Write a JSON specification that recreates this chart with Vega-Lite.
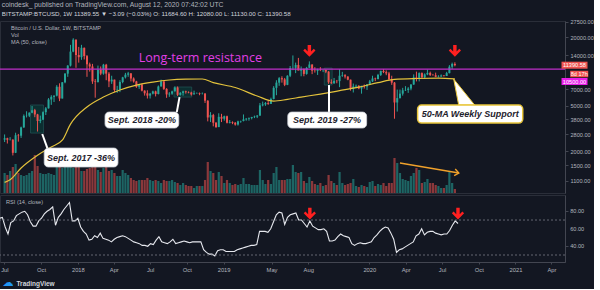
{
"$schema":"https://vega.github.io/schema/vega-lite/v6.json",
"background":"#131722",
"padding":{"left":-2,"top":2,"right":0,"bottom":0},
"config":{"font":"Liberation Sans","view":{"stroke":"#2a2e39"},"axis":{"grid":false,"labelColor":"#b2b5be","labelFontSize":5.6,"domainColor":"#434651","tickColor":"#434651","tickSize":3,"labelPadding":2,"labelFlush":false,"labelOverlap":false}},
"title":{"text":"coindesk_ published on TradingView.com, August 12, 2020 07:42:02 UTC","subtitle":"BITSTAMP:BTCUSD, 1W  11389.55 ▼ −3.09 (−0.03%)  O: 11684.60  H: 12080.00  L: 11130.00  C: 11390.58","anchor":"start","fontSize":6.8,"fontWeight":"normal","color":"#b2b5be","subtitleFontSize":6.2,"subtitleColor":"#d1d4dc","subtitlePadding":2,"offset":2,"dx":3},
"spacing":0,
"datasets":{
"candles":[
{"d":"2017-06-19","o":2520,"h":2800,"l":2400,"c":2590,"v":20,"r":72},
{"d":"2017-06-26","o":2590,"h":2620,"l":2330,"c":2510,"v":18,"r":73},
{"d":"2017-07-03","o":2510,"h":2650,"l":2480,"c":2520,"v":22,"r":62},
{"d":"2017-07-10","o":2520,"h":2540,"l":1830,"c":1930,"v":26,"r":54},
{"d":"2017-07-17","o":1930,"h":2900,"l":1920,"c":2750,"v":29,"r":67},
{"d":"2017-07-24","o":2750,"h":2830,"l":2420,"c":2730,"v":20,"r":69},
{"d":"2017-07-31","o":2730,"h":3280,"l":2610,"c":3230,"v":18,"r":75},
{"d":"2017-08-07","o":3230,"h":4200,"l":3200,"c":4080,"v":17,"r":77},
{"d":"2017-08-14","o":4080,"h":4480,"l":3950,"c":4100,"v":18,"r":79},
{"d":"2017-08-21","o":4100,"h":4380,"l":3980,"c":4350,"v":20,"r":80},
{"d":"2017-08-28","o":4350,"h":4980,"l":4300,"c":4580,"v":22,"r":76},
{"d":"2017-09-04","o":4580,"h":4700,"l":3970,"c":4200,"v":38,"r":68},
{"d":"2017-09-11","o":4200,"h":4250,"l":2970,"c":3680,"v":27,"r":63},
{"d":"2017-09-18","o":3680,"h":4100,"l":3520,"c":3780,"v":20,"r":63},
{"d":"2017-09-25","o":3780,"h":4470,"l":3750,"c":4400,"v":19,"r":69},
{"d":"2017-10-02","o":4400,"h":4880,"l":4150,"c":4750,"v":19,"r":72},
{"d":"2017-10-09","o":4750,"h":5850,"l":4730,"c":5690,"v":20,"r":77},
{"d":"2017-10-16","o":5690,"h":6200,"l":5100,"c":6000,"v":19,"r":80},
{"d":"2017-10-23","o":6000,"h":6190,"l":5400,"c":6140,"v":18,"r":82},
{"d":"2017-10-30","o":6140,"h":7600,"l":6050,"c":7360,"v":27,"r":85},
{"d":"2017-11-06","o":7360,"h":7890,"l":5500,"c":5800,"v":26,"r":64},
{"d":"2017-11-13","o":5800,"h":8100,"l":5800,"c":8050,"v":25,"r":73},
{"d":"2017-11-20","o":8050,"h":9700,"l":7900,"c":9600,"v":28,"r":77},
{"d":"2017-11-27","o":9600,"h":11400,"l":9000,"c":11300,"v":26,"r":82},
{"d":"2017-12-04","o":11300,"h":17200,"l":11100,"c":15000,"v":27,"r":86},
{"d":"2017-12-11","o":15000,"h":19670,"l":14800,"c":19100,"v":25,"r":90},
{"d":"2017-12-18","o":19100,"h":19200,"l":10800,"c":14000,"v":28,"r":69},
{"d":"2017-12-25","o":14000,"h":16500,"l":12000,"c":13400,"v":27,"r":69},
{"d":"2018-01-01","o":13400,"h":17200,"l":12700,"c":16200,"v":22,"r":72},
{"d":"2018-01-08","o":16200,"h":16300,"l":12800,"c":13700,"v":22,"r":62},
{"d":"2018-01-15","o":13700,"h":14000,"l":9000,"c":11600,"v":24,"r":57},
{"d":"2018-01-22","o":11600,"h":12000,"l":10000,"c":11100,"v":25,"r":54},
{"d":"2018-01-29","o":11100,"h":11700,"l":7800,"c":8200,"v":28,"r":47},
{"d":"2018-02-05","o":8200,"h":8600,"l":5900,"c":8100,"v":28,"r":48},
{"d":"2018-02-12","o":8100,"h":11300,"l":8000,"c":10400,"v":23,"r":52},
{"d":"2018-02-19","o":10400,"h":11100,"l":9300,"c":9600,"v":21,"r":50},
{"d":"2018-02-26","o":9600,"h":11700,"l":9400,"c":11500,"v":25,"r":55},
{"d":"2018-03-05","o":11500,"h":11700,"l":8400,"c":9600,"v":27,"r":49},
{"d":"2018-03-12","o":9600,"h":9900,"l":7300,"c":8200,"v":22,"r":48},
{"d":"2018-03-19","o":8200,"h":9200,"l":7800,"c":8500,"v":23,"r":47},
{"d":"2018-03-26","o":8500,"h":8500,"l":6600,"c":6900,"v":20,"r":45},
{"d":"2018-04-02","o":6900,"h":7500,"l":6500,"c":6950,"v":17,"r":48},
{"d":"2018-04-09","o":6950,"h":8400,"l":6600,"c":8100,"v":17,"r":50},
{"d":"2018-04-16","o":8100,"h":9000,"l":7900,"c":8900,"v":23,"r":51},
{"d":"2018-04-23","o":8900,"h":9750,"l":8700,"c":9400,"v":20,"r":52},
{"d":"2018-04-30","o":9400,"h":9950,"l":9000,"c":9650,"v":18,"r":51},
{"d":"2018-05-07","o":9650,"h":9700,"l":8200,"c":8700,"v":15,"r":49},
{"d":"2018-05-14","o":8700,"h":8900,"l":8000,"c":8200,"v":13,"r":47},
{"d":"2018-05-21","o":8200,"h":8300,"l":7200,"c":7350,"v":12,"r":45},
{"d":"2018-05-28","o":7350,"h":7750,"l":7050,"c":7700,"v":13,"r":44},
{"d":"2018-06-04","o":7700,"h":7800,"l":6700,"c":6800,"v":13,"r":43},
{"d":"2018-06-11","o":6800,"h":6850,"l":6150,"c":6450,"v":13,"r":41},
{"d":"2018-06-18","o":6450,"h":6850,"l":5800,"c":6150,"v":15,"r":41},
{"d":"2018-06-25","o":6150,"h":6500,"l":5800,"c":6400,"v":13,"r":40},
{"d":"2018-07-02","o":6400,"h":6800,"l":6300,"c":6700,"v":12,"r":43},
{"d":"2018-07-09","o":6700,"h":6800,"l":6050,"c":6350,"v":13,"r":42},
{"d":"2018-07-16","o":6350,"h":7550,"l":6300,"c":7400,"v":12,"r":47},
{"d":"2018-07-23","o":7400,"h":8500,"l":7400,"c":8200,"v":10,"r":51},
{"d":"2018-07-30","o":8200,"h":8250,"l":6900,"c":7050,"v":13,"r":45},
{"d":"2018-08-06","o":7050,"h":7150,"l":5880,"c":6300,"v":12,"r":44},
{"d":"2018-08-13","o":6300,"h":6600,"l":6000,"c":6400,"v":12,"r":43},
{"d":"2018-08-20","o":6400,"h":6800,"l":6250,"c":6700,"v":13,"r":45},
{"d":"2018-08-27","o":6700,"h":7400,"l":6700,"c":7250,"v":11,"r":48},
{"d":"2018-09-03","o":7250,"h":7400,"l":6100,"c":6250,"v":10,"r":43},
{"d":"2018-09-10","o":6250,"h":6600,"l":6150,"c":6500,"v":8,"r":44},
{"d":"2018-09-17","o":6500,"h":6800,"l":6150,"c":6700,"v":10,"r":45},
{"d":"2018-09-24","o":6700,"h":6800,"l":6400,"c":6600,"v":8,"r":46},
{"d":"2018-10-01","o":6600,"h":6700,"l":6450,"c":6550,"v":7,"r":45},
{"d":"2018-10-08","o":6550,"h":6650,"l":6150,"c":6300,"v":7,"r":44},
{"d":"2018-10-15","o":6300,"h":6800,"l":6300,"c":6450,"v":5,"r":45},
{"d":"2018-10-22","o":6450,"h":6550,"l":6400,"c":6480,"v":7,"r":45},
{"d":"2018-10-29","o":6480,"h":6550,"l":6200,"c":6400,"v":7,"r":45},
{"d":"2018-11-05","o":6400,"h":6550,"l":6300,"c":6420,"v":7,"r":45},
{"d":"2018-11-12","o":6420,"h":6450,"l":5300,"c":5550,"v":13,"r":36},
{"d":"2018-11-19","o":5550,"h":5600,"l":3650,"c":3950,"v":31,"r":33},
{"d":"2018-11-26","o":3950,"h":4400,"l":3600,"c":4150,"v":22,"r":31},
{"d":"2018-12-03","o":4150,"h":4250,"l":3300,"c":3550,"v":20,"r":31},
{"d":"2018-12-10","o":3550,"h":3600,"l":3200,"c":3250,"v":13,"r":29},
{"d":"2018-12-17","o":3250,"h":4300,"l":3250,"c":4000,"v":21,"r":35},
{"d":"2018-12-24","o":4000,"h":4250,"l":3600,"c":3850,"v":17,"r":36},
{"d":"2018-12-31","o":3850,"h":4100,"l":3700,"c":4050,"v":10,"r":36},
{"d":"2019-01-07","o":4050,"h":4100,"l":3500,"c":3550,"v":13,"r":34},
{"d":"2019-01-14","o":3550,"h":3750,"l":3500,"c":3600,"v":10,"r":34},
{"d":"2019-01-21","o":3600,"h":3650,"l":3450,"c":3550,"v":8,"r":34},
{"d":"2019-01-28","o":3550,"h":3600,"l":3350,"c":3420,"v":9,"r":34},
{"d":"2019-02-04","o":3420,"h":3700,"l":3350,"c":3650,"v":8,"r":36},
{"d":"2019-02-11","o":3650,"h":3700,"l":3550,"c":3680,"v":9,"r":37},
{"d":"2019-02-18","o":3680,"h":4200,"l":3650,"c":3800,"v":15,"r":38},
{"d":"2019-02-25","o":3800,"h":3900,"l":3700,"c":3850,"v":9,"r":39},
{"d":"2019-03-04","o":3850,"h":3950,"l":3700,"c":3900,"v":9,"r":40},
{"d":"2019-03-11","o":3900,"h":4000,"l":3800,"c":3980,"v":8,"r":41},
{"d":"2019-03-18","o":3980,"h":4100,"l":3900,"c":4020,"v":8,"r":41},
{"d":"2019-03-25","o":4020,"h":4150,"l":3900,"c":4100,"v":8,"r":42},
{"d":"2019-04-01","o":4100,"h":5300,"l":4100,"c":5050,"v":23,"r":57},
{"d":"2019-04-08","o":5050,"h":5450,"l":4950,"c":5150,"v":13,"r":57},
{"d":"2019-04-15","o":5150,"h":5400,"l":5000,"c":5300,"v":9,"r":57},
{"d":"2019-04-22","o":5300,"h":5650,"l":5100,"c":5200,"v":13,"r":56},
{"d":"2019-04-29","o":5200,"h":5900,"l":5200,"c":5750,"v":9,"r":60},
{"d":"2019-05-06","o":5750,"h":7450,"l":5700,"c":7200,"v":20,"r":68},
{"d":"2019-05-13","o":7200,"h":8400,"l":6200,"c":8000,"v":26,"r":76},
{"d":"2019-05-20","o":8000,"h":8950,"l":7500,"c":8750,"v":13,"r":79},
{"d":"2019-05-27","o":8750,"h":9100,"l":8000,"c":8550,"v":13,"r":78},
{"d":"2019-06-03","o":8550,"h":8800,"l":7450,"c":7650,"v":13,"r":65},
{"d":"2019-06-10","o":7650,"h":9300,"l":7600,"c":9200,"v":14,"r":73},
{"d":"2019-06-17","o":9200,"h":11200,"l":8950,"c":10750,"v":14,"r":76},
{"d":"2019-06-24","o":10750,"h":13880,"l":10300,"c":10800,"v":28,"r":77},
{"d":"2019-07-01","o":10800,"h":12000,"l":9700,"c":11450,"v":21,"r":78},
{"d":"2019-07-08","o":11450,"h":13200,"l":10400,"c":10200,"v":20,"r":70},
{"d":"2019-07-15","o":10200,"h":11100,"l":9100,"c":10550,"v":21,"r":70},
{"d":"2019-07-22","o":10550,"h":10650,"l":9100,"c":9550,"v":12,"r":66},
{"d":"2019-07-29","o":9550,"h":11000,"l":9400,"c":10800,"v":10,"r":62},
{"d":"2019-08-05","o":10800,"h":12300,"l":10800,"c":11550,"v":16,"r":69},
{"d":"2019-08-12","o":11550,"h":11600,"l":9500,"c":10200,"v":12,"r":63},
{"d":"2019-08-19","o":10200,"h":10950,"l":9800,"c":10150,"v":9,"r":61},
{"d":"2019-08-26","o":10150,"h":10600,"l":9350,"c":10400,"v":8,"r":59},
{"d":"2019-09-02","o":10400,"h":10950,"l":10100,"c":10300,"v":10,"r":59},
{"d":"2019-09-09","o":10300,"h":10400,"l":9900,"c":10350,"v":7,"r":60},
{"d":"2019-09-16","o":10350,"h":10400,"l":9700,"c":10000,"v":8,"r":57},
{"d":"2019-09-23","o":10000,"h":10100,"l":7800,"c":8050,"v":18,"r":46},
{"d":"2019-09-30","o":8050,"h":8550,"l":7800,"c":7900,"v":12,"r":46},
{"d":"2019-10-07","o":7900,"h":8800,"l":7800,"c":8300,"v":10,"r":47},
{"d":"2019-10-14","o":8300,"h":8450,"l":7900,"c":8250,"v":8,"r":51},
{"d":"2019-10-21","o":8250,"h":10500,"l":7300,"c":9200,"v":21,"r":54},
{"d":"2019-10-28","o":9200,"h":9950,"l":9000,"c":9300,"v":10,"r":52},
{"d":"2019-11-04","o":9300,"h":9500,"l":8700,"c":9050,"v":8,"r":51},
{"d":"2019-11-11","o":9050,"h":9100,"l":8400,"c":8500,"v":9,"r":50},
{"d":"2019-11-18","o":8500,"h":8500,"l":6800,"c":7050,"v":10,"r":43},
{"d":"2019-11-25","o":7050,"h":7850,"l":6550,"c":7400,"v":14,"r":41},
{"d":"2019-12-02","o":7400,"h":7700,"l":7150,"c":7500,"v":7,"r":43},
{"d":"2019-12-09","o":7500,"h":7600,"l":7000,"c":7100,"v":6,"r":44},
{"d":"2019-12-16","o":7100,"h":7500,"l":6400,"c":7500,"v":8,"r":43},
{"d":"2019-12-23","o":7500,"h":7700,"l":7100,"c":7400,"v":7,"r":43},
{"d":"2019-12-30","o":7400,"h":7600,"l":6900,"c":7750,"v":6,"r":44},
{"d":"2020-01-06","o":7750,"h":8450,"l":7700,"c":8200,"v":11,"r":45},
{"d":"2020-01-13","o":8200,"h":9200,"l":8100,"c":8700,"v":12,"r":50},
{"d":"2020-01-20","o":8700,"h":8850,"l":8250,"c":8600,"v":7,"r":53},
{"d":"2020-01-27","o":8600,"h":9550,"l":8550,"c":9350,"v":9,"r":57},
{"d":"2020-02-03","o":9350,"h":10200,"l":9150,"c":10150,"v":8,"r":60},
{"d":"2020-02-10","o":10150,"h":10500,"l":9700,"c":9900,"v":10,"r":62},
{"d":"2020-02-17","o":9900,"h":10250,"l":9300,"c":9650,"v":7,"r":61},
{"d":"2020-02-24","o":9650,"h":9950,"l":8450,"c":8550,"v":10,"r":55},
{"d":"2020-03-02","o":8550,"h":9200,"l":7650,"c":8000,"v":10,"r":48},
{"d":"2020-03-09","o":8000,"h":8100,"l":3850,"c":5350,"v":35,"r":33},
{"d":"2020-03-16","o":5350,"h":6950,"l":4450,"c":5850,"v":30,"r":36},
{"d":"2020-03-23","o":5850,"h":6950,"l":5800,"c":6400,"v":20,"r":37},
{"d":"2020-03-30","o":6400,"h":7200,"l":6150,"c":6850,"v":14,"r":39},
{"d":"2020-04-06","o":6850,"h":7450,"l":6750,"c":6900,"v":13,"r":41},
{"d":"2020-04-13","o":6900,"h":7300,"l":6500,"c":7100,"v":12,"r":43},
{"d":"2020-04-20","o":7100,"h":7750,"l":6850,"c":7700,"v":17,"r":45},
{"d":"2020-04-27","o":7700,"h":9450,"l":7650,"c":8900,"v":20,"r":52},
{"d":"2020-05-04","o":8900,"h":10000,"l":8200,"c":8750,"v":25,"r":54},
{"d":"2020-05-11","o":8750,"h":9850,"l":8200,"c":9700,"v":23,"r":60},
{"d":"2020-05-18","o":9700,"h":9850,"l":8800,"c":8900,"v":10,"r":53},
{"d":"2020-05-25","o":8900,"h":9650,"l":8650,"c":9450,"v":11,"r":56},
{"d":"2020-06-01","o":9450,"h":10400,"l":9300,"c":9750,"v":14,"r":57},
{"d":"2020-06-08","o":9750,"h":10000,"l":9150,"c":9350,"v":10,"r":57},
{"d":"2020-06-15","o":9350,"h":9550,"l":9250,"c":9300,"v":10,"r":55},
{"d":"2020-06-22","o":9300,"h":9800,"l":8950,"c":9000,"v":8,"r":54},
{"d":"2020-06-29","o":9000,"h":9300,"l":8900,"c":9050,"v":7,"r":53},
{"d":"2020-07-06","o":9050,"h":9450,"l":9000,"c":9250,"v":5,"r":54},
{"d":"2020-07-13","o":9250,"h":9300,"l":9050,"c":9150,"v":5,"r":54},
{"d":"2020-07-20","o":9150,"h":9950,"l":9150,"c":9700,"v":8,"r":58},
{"d":"2020-07-27","o":9700,"h":11400,"l":9650,"c":11050,"v":21,"r":64},
{"d":"2020-08-03","o":11050,"h":12000,"l":10550,"c":11690,"v":10,"r":69},
{"d":"2020-08-10","o":11685,"h":12080,"l":11130,"c":11390,"v":4,"r":66}
],
"ma":[
{"d":"2017-06-19","ma":1060},{"d":"2017-07-03","ma":1120},{"d":"2017-07-31","ma":1420},{"d":"2017-09-11","ma":1840},{"d":"2017-10-16","ma":2170},{"d":"2017-11-13","ma":2490},{"d":"2017-12-04","ma":3450},{"d":"2018-01-15","ma":4890},{"d":"2018-02-26","ma":5970},{"d":"2018-04-09","ma":6890},{"d":"2018-05-21","ma":7610},{"d":"2018-07-02","ma":8090},{"d":"2018-08-13","ma":8440},{"d":"2018-09-24","ma":8580},{"d":"2018-11-05","ma":8610},{"d":"2018-12-03","ma":8000},{"d":"2019-01-28","ma":7250},{"d":"2019-03-25","ma":6100},{"d":"2019-05-06","ma":5500},{"d":"2019-06-10","ma":5700},{"d":"2019-07-15","ma":5970},{"d":"2019-09-02","ma":6350},{"d":"2019-10-21","ma":6800},{"d":"2019-12-09","ma":7300},{"d":"2020-01-27","ma":8000},{"d":"2020-03-09","ma":8550},{"d":"2020-05-04","ma":8700},{"d":"2020-06-29","ma":8750},{"d":"2020-08-10","ma":8620}
],
"callouts":[
{"t":"Sept. 2017 -36%","b1":"2017-09-28","b2":"2018-04-04","lo":1449,"hi":2125,"td":"2017-12-31","tp":1754,"s1d":"2017-09-23","s1p":2825,"s2d":"2017-10-06","s2p":2125,"h1":"2017-08-24","h2":"2017-09-26","hlo":2879,"hhi":5085},
{"t":"Sept. 2018 -20%","b1":"2018-03-02","b2":"2018-09-06","lo":3189,"hi":4407,"td":"2018-06-04","tp":3748,"s1d":"2018-09-08","s1p":5970,"s2d":"2018-09-01","s2p":4407,"h1":"2018-08-25","h2":"2018-10-09","hlo":5970,"hhi":7320},
{"t":"Sept. 2019 -27%","b1":"2019-06-11","b2":"2019-12-29","lo":3189,"hi":4407,"td":"2019-09-19","tp":3748,"s1d":"2019-09-24","s1p":7617,"s2d":"2019-09-24","s2p":4407,"h1":"2019-09-12","h2":"2019-10-02","hlo":7617,"hhi":10750}
],
"arrows":[{"d":"2019-08-05"},{"d":"2020-08-10"}],
"volTrend":[{"d":"2020-03-23","v":30},{"d":"2020-08-20","v":20}],
"rsiTicks":[{"t":40},{"t":60},{"t":80}]
},
"vconcat":[
{
"width":565,"height":172,
"resolve":{"scale":{"y":"independent"}},
"layer":[
{"layer":[
{"data":{"name":"candles"},"mark":{"type":"bar","width":2.2,"opacity":0.55,"clip":true},
"encoding":{"x":{"field":"d","type":"temporal","scale":{"type":"utc","domain":[{"year":2017,"month":6,"date":20,"utc":true},{"year":2021,"month":5,"date":5,"utc":true}]},"axis":null},
"y":{"field":"v","type":"quantitative","scale":{"domain":[0,172],"nice":false},"axis":null},
"color":{"condition":{"test":"datum.c >= datum.o","value":"#26a69a"},"value":"#ef5350"}}},
{"data":{"name":"volTrend"},"mark":{"type":"line","color":"#f0a12b","strokeWidth":1.3},
"encoding":{"x":{"field":"d","type":"temporal","scale":{"type":"utc","domain":[{"year":2017,"month":6,"date":20,"utc":true},{"year":2021,"month":5,"date":5,"utc":true}]},"axis":null},
"y":{"field":"v","type":"quantitative","scale":{"domain":[0,172],"nice":false},"axis":null}}},
{"data":{"name":"volTrend"},"transform":[{"filter":"datum.v < 25"}],"mark":{"type":"point","shape":"M-1,-0.8L0,0L-1,0.8","filled":false,"stroke":"#f0a12b","strokeWidth":1.4,"size":70,"angle":9.5,"opacity":1},
"encoding":{"x":{"field":"d","type":"temporal","scale":{"type":"utc","domain":[{"year":2017,"month":6,"date":20,"utc":true},{"year":2021,"month":5,"date":5,"utc":true}]},"axis":null},
"y":{"field":"v","type":"quantitative","scale":{"domain":[0,172],"nice":false},"axis":null}}}
]},
{"layer":[
{"data":{"name":"callouts"},"mark":{"type":"rect","fill":"#0b3434","fillOpacity":0.8,"stroke":"#1f4f50","strokeWidth":0.8},
"encoding":{"x":{"field":"h1","type":"temporal","scale":{"type":"utc","domain":[{"year":2017,"month":6,"date":20,"utc":true},{"year":2021,"month":5,"date":5,"utc":true}]},"axis":null},"x2":{"field":"h2"},
"y":{"field":"hlo","type":"quantitative","scale":{"type":"log","domain":[855,27890],"nice":false},"axis":{"orient":"right","values":[1100,1500,2000,2800,3800,5000,7000,14000,20000,27500],"format":".2f","title":null,"labelOverlap":false}},"y2":{"field":"hhi"}}},
{"data":{"name":"candles"},"mark":{"type":"rule","strokeWidth":1,"clip":true},
"encoding":{"x":{"field":"d","type":"temporal","scale":{"type":"utc","domain":[{"year":2017,"month":6,"date":20,"utc":true},{"year":2021,"month":5,"date":5,"utc":true}]},"axis":null},
"y":{"field":"l","type":"quantitative","scale":{"type":"log","domain":[855,27890],"nice":false}},"y2":{"field":"h"},
"color":{"condition":{"test":"datum.c >= datum.o","value":"#26a69a"},"value":"#ef5350"}}},
{"data":{"name":"candles"},"mark":{"type":"bar","width":2,"clip":true},
"encoding":{"x":{"field":"d","type":"temporal","scale":{"type":"utc","domain":[{"year":2017,"month":6,"date":20,"utc":true},{"year":2021,"month":5,"date":5,"utc":true}]},"axis":null},
"y":{"field":"o","type":"quantitative","scale":{"type":"log","domain":[855,27890],"nice":false}},"y2":{"field":"c"},
"color":{"condition":{"test":"datum.c >= datum.o","value":"#26a69a"},"value":"#ef5350"}}},
{"data":{"name":"ma"},"mark":{"type":"line","color":"#e3c23c","strokeWidth":1.2,"interpolate":"monotone","clip":true},
"encoding":{"x":{"field":"d","type":"temporal","scale":{"type":"utc","domain":[{"year":2017,"month":6,"date":20,"utc":true},{"year":2021,"month":5,"date":5,"utc":true}]},"axis":null},
"y":{"field":"ma","type":"quantitative","scale":{"type":"log","domain":[855,27890],"nice":false}}}},
{"data":{"values":[{}]},"mark":{"type":"rule","color":"#c02fca","strokeWidth":1.3},
"encoding":{"y":{"datum":10500,"type":"quantitative","scale":{"type":"log","domain":[855,27890],"nice":false}}}},
{"data":{"values":[{}]},"mark":{"type":"text","text":"Long-term resistance","font":"Open Sans","fontSize":12.5,"color":"#e23fe6","align":"center","baseline":"middle"},
"encoding":{"x":{"datum":{"year":2018,"month":10,"date":31,"utc":true},"type":"temporal","scale":{"type":"utc","domain":[{"year":2017,"month":6,"date":20,"utc":true},{"year":2021,"month":5,"date":5,"utc":true}]},"axis":null},
"y":{"datum":13300,"type":"quantitative","scale":{"type":"log","domain":[855,27890],"nice":false}}}},
{"data":{"name":"callouts"},"mark":{"type":"rule","color":"#ffffff","strokeWidth":2},
"encoding":{"x":{"field":"s1d","type":"temporal","scale":{"type":"utc","domain":[{"year":2017,"month":6,"date":20,"utc":true},{"year":2021,"month":5,"date":5,"utc":true}]},"axis":null},"x2":{"field":"s2d"},
"y":{"field":"s1p","type":"quantitative","scale":{"type":"log","domain":[855,27890],"nice":false}},"y2":{"field":"s2p"}}},
{"data":{"name":"callouts"},"mark":{"type":"rect","fill":"#ffffff","stroke":"#d1d4dc","strokeWidth":0.8,"cornerRadius":4},
"encoding":{"x":{"field":"b1","type":"temporal","scale":{"type":"utc","domain":[{"year":2017,"month":6,"date":20,"utc":true},{"year":2021,"month":5,"date":5,"utc":true}]},"axis":null},"x2":{"field":"b2"},
"y":{"field":"lo","type":"quantitative","scale":{"type":"log","domain":[855,27890],"nice":false}},"y2":{"field":"hi"}}},
{"data":{"name":"callouts"},"mark":{"type":"text","font":"Liberation Sans","fontSize":9,"fontStyle":"italic","fontWeight":"bold","color":"#1e222d","align":"center","baseline":"middle"},
"encoding":{"x":{"field":"td","type":"temporal","scale":{"type":"utc","domain":[{"year":2017,"month":6,"date":20,"utc":true},{"year":2021,"month":5,"date":5,"utc":true}]},"axis":null},
"y":{"field":"tp","type":"quantitative","scale":{"type":"log","domain":[855,27890],"nice":false}},"text":{"field":"t"}}},
{"data":{"values":[{}]},"mark":{"type":"point","shape":"M-0.846,-1L-0.462,1L0.769,1Z","filled":true,"fill":"#ffffff","stroke":"#e8c53a","strokeWidth":1,"size":676,"opacity":1},
"encoding":{"x":{"datum":{"year":2020,"month":9,"date":4,"utc":true},"type":"temporal","scale":{"type":"utc","domain":[{"year":2017,"month":6,"date":20,"utc":true},{"year":2021,"month":5,"date":5,"utc":true}]},"axis":null},
"y":{"datum":6610,"type":"quantitative","scale":{"type":"log","domain":[855,27890],"nice":false}}}},
{"data":{"values":[{}]},"mark":{"type":"rect","fill":"#ffffff","stroke":"#e8c53a","strokeWidth":1.5,"cornerRadius":4},
"encoding":{"x":{"datum":{"year":2020,"month":5,"date":7,"utc":true},"type":"temporal","scale":{"type":"utc","domain":[{"year":2017,"month":6,"date":20,"utc":true},{"year":2021,"month":5,"date":5,"utc":true}]},"axis":null},"x2":{"datum":{"year":2021,"month":1,"date":30,"utc":true}},
"y":{"datum":3528,"type":"quantitative","scale":{"type":"log","domain":[855,27890],"nice":false}},"y2":{"datum":5085}}},
{"data":{"values":[{}]},"mark":{"type":"text","text":"50-MA Weekly Support","font":"Liberation Sans","fontSize":9,"fontStyle":"italic","fontWeight":"bold","color":"#1e222d","align":"center","baseline":"middle"},
"encoding":{"x":{"datum":{"year":2020,"month":9,"date":18,"utc":true},"type":"temporal","scale":{"type":"utc","domain":[{"year":2017,"month":6,"date":20,"utc":true},{"year":2021,"month":5,"date":5,"utc":true}]},"axis":null},
"y":{"datum":4236,"type":"quantitative","scale":{"type":"log","domain":[855,27890],"nice":false}}}},
{"data":{"name":"arrows"},"mark":{"type":"point","shape":"M-0.28,-1L0.28,-1L0.28,0.05L0.72,-0.4L1,-0.12L0,0.9L-1,-0.12L-0.72,-0.4L-0.28,0.05Z","filled":true,"color":"#ff2020","size":150,"opacity":1},
"encoding":{"x":{"field":"d","type":"temporal","scale":{"type":"utc","domain":[{"year":2017,"month":6,"date":20,"utc":true},{"year":2021,"month":5,"date":5,"utc":true}]},"axis":null},
"y":{"datum":15150,"type":"quantitative","scale":{"type":"log","domain":[855,27890],"nice":false}}}},
{"data":{"values":[{}]},"mark":{"type":"text","text":["Bitcoin / U.S. Dollar, 1W, BITSTAMP","Vol","MA (50, close)"],"fontSize":5.6,"lineHeight":7.2,"color":"#b2b5be","align":"left","baseline":"top","dx":6},
"encoding":{"x":{"datum":{"year":2017,"month":6,"date":20,"utc":true},"type":"temporal","scale":{"type":"utc","domain":[{"year":2017,"month":6,"date":20,"utc":true},{"year":2021,"month":5,"date":5,"utc":true}]},"axis":null},
"y":{"datum":25200,"type":"quantitative","scale":{"type":"log","domain":[855,27890],"nice":false}}}},
{"data":{"values":[{}]},"mark":{"type":"point","shape":"M-1,-0.27H1V0.27H-1Z","filled":true,"color":"#ef5350","size":676,"opacity":1},
"encoding":{"x":{"datum":{"year":2021,"month":6,"date":11,"utc":true},"type":"temporal","scale":{"type":"utc","domain":[{"year":2017,"month":6,"date":20,"utc":true},{"year":2021,"month":5,"date":5,"utc":true}]},"axis":null},
"y":{"datum":11390.58,"type":"quantitative","scale":{"type":"log","domain":[855,27890],"nice":false}}}},
{"data":{"values":[{}]},"mark":{"type":"point","shape":"M-1,-0.36H1V0.36H-1Z","filled":true,"color":"#ef5350","size":324,"opacity":1},
"encoding":{"x":{"datum":{"year":2021,"month":6,"date":23,"utc":true},"type":"temporal","scale":{"type":"utc","domain":[{"year":2017,"month":6,"date":20,"utc":true},{"year":2021,"month":5,"date":5,"utc":true}]},"axis":null},
"y":{"datum":9525,"type":"quantitative","scale":{"type":"log","domain":[855,27890],"nice":false}}}},
{"data":{"values":[{}]},"mark":{"type":"point","shape":"M-1,-0.27H1V0.27H-1Z","filled":true,"color":"#e91ee9","size":676,"opacity":1},
"encoding":{"x":{"datum":{"year":2021,"month":6,"date":11,"utc":true},"type":"temporal","scale":{"type":"utc","domain":[{"year":2017,"month":6,"date":20,"utc":true},{"year":2021,"month":5,"date":5,"utc":true}]},"axis":null},
"y":{"datum":8183,"type":"quantitative","scale":{"type":"log","domain":[855,27890],"nice":false}}}},
{"data":{"values":[{"p":11390.58,"t":"11390.58"},{"p":8183,"t":"10500.00"}]},"mark":{"type":"text","fontSize":5.6,"color":"#ffffff","align":"center","baseline":"middle"},
"encoding":{"x":{"datum":{"year":2021,"month":6,"date":11,"utc":true},"type":"temporal","scale":{"type":"utc","domain":[{"year":2017,"month":6,"date":20,"utc":true},{"year":2021,"month":5,"date":5,"utc":true}]},"axis":null},
"y":{"field":"p","type":"quantitative","scale":{"type":"log","domain":[855,27890],"nice":false}},"text":{"field":"t"}}},
{"data":{"values":[{}]},"mark":{"type":"text","text":"8d 17h","fontSize":5.6,"color":"#ffffff","align":"center","baseline":"middle"},
"encoding":{"x":{"datum":{"year":2021,"month":6,"date":23,"utc":true},"type":"temporal","scale":{"type":"utc","domain":[{"year":2017,"month":6,"date":20,"utc":true},{"year":2021,"month":5,"date":5,"utc":true}]},"axis":null},
"y":{"datum":9525,"type":"quantitative","scale":{"type":"log","domain":[855,27890],"nice":false}}}}
]}
]
},
{
"width":565,"height":67,
"layer":[
{"data":{"name":"candles"},"mark":{"type":"line","color":"#e6e8ee","strokeWidth":1.1,"clip":true},
"encoding":{"x":{"field":"d","type":"temporal","scale":{"type":"utc","domain":[{"year":2017,"month":6,"date":20,"utc":true},{"year":2021,"month":5,"date":5,"utc":true}]},
"axis":{"values":[{"year":2017,"month":7,"date":1,"utc":true},{"year":2017,"month":10,"date":1,"utc":true},{"year":2018,"month":1,"date":1,"utc":true},{"year":2018,"month":4,"date":1,"utc":true},{"year":2018,"month":7,"date":1,"utc":true},{"year":2018,"month":10,"date":1,"utc":true},{"year":2019,"month":1,"date":1,"utc":true},{"year":2019,"month":5,"date":1,"utc":true},{"year":2019,"month":8,"date":1,"utc":true},{"year":2020,"month":1,"date":1,"utc":true},{"year":2020,"month":4,"date":1,"utc":true},{"year":2020,"month":7,"date":1,"utc":true},{"year":2020,"month":10,"date":1,"utc":true},{"year":2021,"month":1,"date":1,"utc":true},{"year":2021,"month":4,"date":1,"utc":true}],
"labelExpr":"utcmonth(datum.value) == 0 ? utcFormat(datum.value, '%Y') : utcFormat(datum.value, '%b')","labelFontSize":5.8,"tickSize":2,"labelPadding":2,
"title":"TradingView","titleFontSize":6.5,"titleFontWeight":"bold","titleColor":"#d1d4dc","titleAlign":"left","titleAnchor":"start","titleX":16,"titleY":21,"titleBaseline":"middle"}},
"y":{"field":"r","type":"quantitative","scale":{"domain":[22,98.6],"nice":false,"zero":false},"axis":{"orient":"right","values":[40,60,80],"labels":false,"title":null}}}},
{"data":{"values":[{"b":70},{"b":30}]},"mark":{"type":"rule","color":"#787b86","strokeDash":[2,2],"strokeWidth":0.8},
"encoding":{"y":{"field":"b","type":"quantitative","scale":{"domain":[22,98.6],"nice":false,"zero":false}}}},
{"data":{"name":"rsiTicks"},"mark":{"type":"text","fontSize":5.6,"color":"#b2b5be","align":"left","baseline":"middle"},
"encoding":{"x":{"datum":{"year":2021,"month":5,"date":18,"utc":true},"type":"temporal","scale":{"type":"utc","domain":[{"year":2017,"month":6,"date":20,"utc":true},{"year":2021,"month":5,"date":5,"utc":true}]}},
"y":{"field":"t","type":"quantitative","scale":{"domain":[22,98.6],"nice":false,"zero":false}},"text":{"field":"t","type":"quantitative","format":".2f"}}},
{"data":{"name":"arrows"},"mark":{"type":"point","shape":"M-0.28,-1L0.28,-1L0.28,0.05L0.72,-0.4L1,-0.12L0,0.9L-1,-0.12L-0.72,-0.4L-0.28,0.05Z","filled":true,"color":"#ff2020","size":150,"opacity":1},
"encoding":{"x":{"field":"d","type":"temporal","scale":{"type":"utc","domain":[{"year":2017,"month":6,"date":20,"utc":true},{"year":2021,"month":5,"date":5,"utc":true}]}},
"y":{"datum":77,"type":"quantitative","scale":{"domain":[22,98.6],"nice":false,"zero":false}}}},
{"data":{"values":[{}]},"mark":{"type":"text","text":"RSI (14, close)","fontSize":5.6,"color":"#b2b5be","align":"left","baseline":"middle","dx":6},
"encoding":{"x":{"datum":{"year":2017,"month":6,"date":20,"utc":true},"type":"temporal","scale":{"type":"utc","domain":[{"year":2017,"month":6,"date":20,"utc":true},{"year":2021,"month":5,"date":5,"utc":true}]}},
"y":{"datum":90.6,"type":"quantitative","scale":{"domain":[22,98.6],"nice":false,"zero":false}}}},
{"data":{"values":[{}]},"mark":{"type":"text","text":"☁","font":"DejaVu Sans","fontSize":11,"color":"#2196f3","align":"center","baseline":"middle"},
"encoding":{"x":{"datum":{"year":2017,"month":7,"date":10,"utc":true},"type":"temporal","scale":{"type":"utc","domain":[{"year":2017,"month":6,"date":20,"utc":true},{"year":2021,"month":5,"date":5,"utc":true}]}},
"y":{"datum":-2,"type":"quantitative","scale":{"domain":[22,98.6],"nice":false,"zero":false}}}}
]
}
]
}
